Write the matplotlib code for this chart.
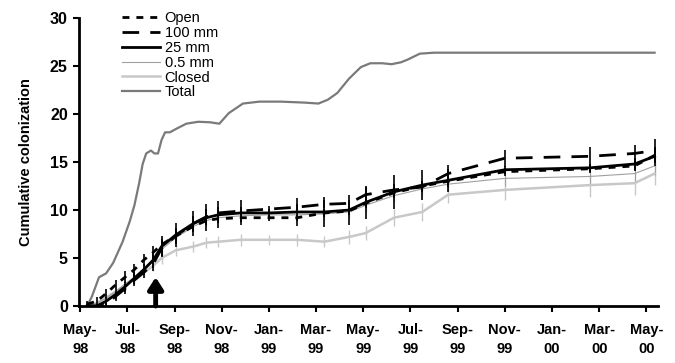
import numpy as np
import matplotlib
matplotlib.use('Agg')
from matplotlib import pyplot as plt
from matplotlib.lines import Line2D

plt.rcParams['font.family'] = ['Liberation Sans', 'DejaVu Sans']

# months since May-98
t = [0.3, 0.7, 1.1, 1.5, 1.9, 2.3, 2.7, 3.1, 3.45, 4.05, 4.8, 5.35, 5.85, 6.8, 8.0,
     9.2, 10.35, 11.4, 12.1, 13.3, 14.5, 15.6, 18.0, 21.6, 23.5, 24.35]
open_ = [0.2, 0.5, 1.3, 2.2, 3.0, 3.8, 4.8, 5.6, 6.4, 7.3, 8.3, 8.9, 9.1, 9.2, 9.2,
         9.2, 9.7, 9.9, 10.7, 11.8, 12.5, 13.0, 14.0, 14.3, 14.6, 15.7]
mm100 = [0, 0, 0.2, 1.0, 1.8, 2.7, 3.5, 4.4, 6.0, 7.3, 8.6, 9.3, 9.7, 9.9, 10.1,
         10.3, 10.6, 10.7, 11.6, 12.1, 12.4, 13.8, 15.4, 15.6, 15.9, 16.2]
mm25 = [0, 0, 0.5, 1.2, 2.0, 2.9, 3.8, 4.8, 6.2, 7.4, 8.6, 9.2, 9.5, 9.7, 9.7,
        9.8, 9.8, 10.0, 10.8, 11.9, 12.6, 13.1, 14.2, 14.4, 14.8, 15.6]
mm05 = [0, 0.3, 0.8, 1.5, 2.3, 3.0, 3.8, 4.6, 5.9, 7.1, 8.3, 8.9, 9.2, 9.4, 9.5,
        9.5, 9.6, 9.8, 10.5, 11.5, 12.2, 12.7, 13.3, 13.5, 13.8, 14.6]
closed = [0, 0.3, 0.9, 1.5, 2.1, 2.8, 3.5, 4.2, 5.0, 5.8, 6.2, 6.6, 6.7, 6.9, 6.9,
          6.9, 6.7, 7.2, 7.6, 9.2, 9.8, 11.6, 12.1, 12.6, 12.8, 13.8]

err_open = [0.3, 0.4, 0.5, 0.5, 0.6, 0.6, 0.6, 0.7, 0.6, 0.6, 0.6, 0.5, 0.4, 0.4, 0.3,
            0.3, 0.4, 0.4, 0.5, 0.5, 0.5, 0.6, 0.4, 0.4, 0.5, 0.8]
err100 = [0.2, 0.2, 0.4, 0.5, 0.5, 0.6, 0.6, 0.7, 0.8, 0.8, 0.8, 0.8, 0.6, 0.4, 0.3,
          0.3, 0.4, 0.4, 0.8, 0.6, 0.5, 0.9, 0.9, 1.0, 0.9, 1.2]
err25 = [0.2, 0.2, 0.4, 0.5, 0.5, 0.6, 0.6, 0.8, 1.1, 1.2, 1.3, 1.4, 1.4, 1.3, 0.4,
         1.45, 1.6, 1.6, 1.7, 1.8, 1.6, 1.2, 0.4, 0.4, 0.6, 1.0]
err05 = [0.2, 0.2, 0.3, 0.4, 0.4, 0.4, 0.5, 0.5, 0.6, 0.6, 0.6, 0.6, 0.6, 0.6, 0.5,
         0.6, 0.6, 0.6, 0.7, 0.7, 0.7, 0.7, 0.8, 0.8, 0.9, 0.9]
err_closed = [0.2, 0.2, 0.3, 0.4, 0.4, 0.5, 0.5, 0.5, 0.6, 0.6, 0.6, 0.6, 0.6, 0.6, 0.5,
              0.6, 0.6, 0.7, 0.7, 0.9, 0.9, 0.9, 1.1, 1.2, 1.2, 1.2]

t_total = [0.3, 0.5, 0.8, 1.1, 1.4, 1.8, 2.1, 2.3, 2.5, 2.65, 2.8, 3.0, 3.15, 3.3,
           3.45, 3.6, 3.8, 4.1, 4.5, 5.0, 5.5, 5.9, 6.3, 6.9, 7.6, 8.5, 9.5, 10.1,
           10.5, 10.9, 11.4, 11.9, 12.3, 12.8, 13.2, 13.6, 13.9, 14.4, 15.0, 18.0,
           21.6, 24.35]
total = [0, 1.0, 3.0, 3.4, 4.5, 6.7, 8.8, 10.5, 12.8, 14.8, 15.9, 16.2, 15.9, 15.9,
         17.3, 18.1, 18.1, 18.5, 19.0, 19.2, 19.15, 19.0, 20.1, 21.1, 21.3, 21.3,
         21.2, 21.1, 21.5, 22.2, 23.7, 24.9, 25.3, 25.3, 25.2, 25.4, 25.7, 26.3,
         26.4, 26.4, 26.4, 26.4]

tick_pos = list(range(0, 25, 2))
tick_labels = ['May-\n98', 'Jul-\n98', 'Sep-\n98', 'Nov-\n98', 'Jan-\n99', 'Mar-\n99',
               'May-\n99', 'Jul-\n99', 'Sep-\n99', 'Nov-\n99', 'Jan-\n00', 'Mar-\n00',
               'May-\n00']
arrow_x = 3.2

fig = plt.figure(figsize=(6.75, 3.63), dpi=100)
ax = fig.add_axes([0.117, 0.157, 0.858, 0.793])

light = '#c8c8c8'
thin = '#a0a0a0'
ls_open = (0, (2.5, 2.5))
ls_100 = (0, (6, 4))

ax.errorbar(t, closed, yerr=err_closed, color=light, lw=1.8, elinewidth=1.0,
            capsize=0, zorder=2)
ax.errorbar(t, mm05, yerr=err05, color=thin, lw=0.8, elinewidth=0.8,
            capsize=0, zorder=2)
ax.plot(t_total, total, color='#7a7a7a', lw=1.6, zorder=2,
        solid_joinstyle='round')
ax.errorbar(t, open_, yerr=err_open, color='black', lw=2, ls=ls_open,
            elinewidth=1.2, capsize=0, zorder=3)
ax.errorbar(t, mm100, yerr=err100, color='black', lw=2, ls=ls_100,
            elinewidth=1.2, capsize=0, zorder=3)
ax.errorbar(t, mm25, yerr=err25, color='black', lw=2, elinewidth=1.2,
            capsize=0, zorder=4)

ax.annotate('', xy=(arrow_x, 3.0), xytext=(arrow_x, 0),
            arrowprops=dict(arrowstyle='-|>,head_length=0.7,head_width=0.45',
                            color='black', lw=3.5, shrinkA=0, shrinkB=0),
            zorder=5)

handles = [Line2D([], [], color='black', lw=2, ls=ls_open),
           Line2D([], [], color='black', lw=2, ls=ls_100),
           Line2D([], [], color='black', lw=2),
           Line2D([], [], color=thin, lw=0.8),
           Line2D([], [], color=light, lw=1.8),
           Line2D([], [], color='#7a7a7a', lw=1.6)]
labels = ['Open', '100 mm', '25 mm', '0.5 mm', 'Closed', 'Total']
ax.legend(handles, labels, loc='upper left', bbox_to_anchor=(0.065, 1.045),
          frameon=False, fontsize=10.5, handlelength=2.6, handletextpad=0.3,
          labelspacing=0.06, borderaxespad=0)

ax.set_xlim(-0.05, 24.5)
ax.set_ylim(0, 30)
ax.set_yticks([0, 5, 10, 15, 20, 25, 30])
ax.set_xticks(tick_pos)
ax.set_xticklabels(tick_labels, fontsize=10.5, fontweight='bold', linespacing=1.45)
for lab in ax.get_yticklabels():
    lab.set_fontsize(11.5)
    lab.set_fontweight('bold')
ax.set_ylabel('Cumulative colonization', fontsize=10.5, fontweight='bold', labelpad=12)

for s in ['top', 'right']:
    ax.spines[s].set_visible(False)
for s in ['left', 'bottom']:
    ax.spines[s].set_linewidth(2)
ax.tick_params(axis='both', direction='out', length=4, width=1.5, pad=4)
ax.tick_params(axis='x', pad=8)

fig.savefig('out.png', dpi=100)
